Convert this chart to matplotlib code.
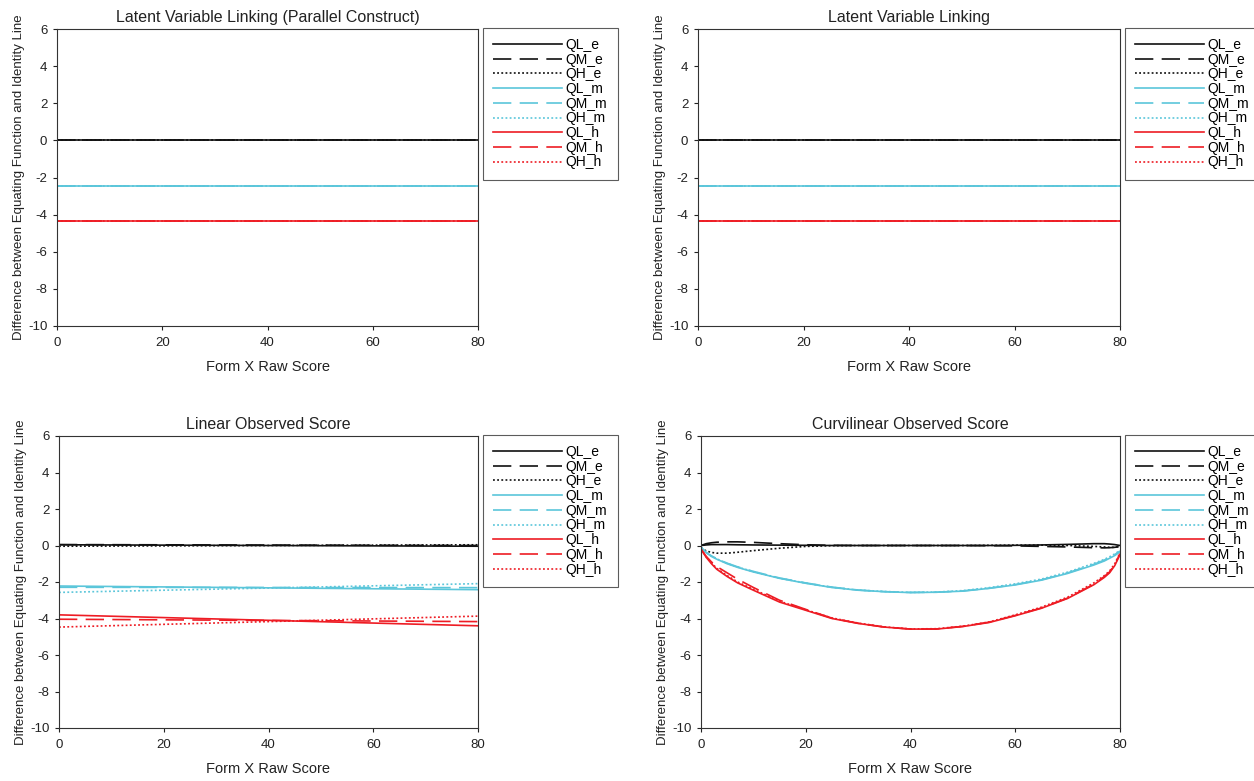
import matplotlib
matplotlib.use("Agg")
import matplotlib.pyplot as plt

plt.rcParams['font.family'] = ['Liberation Sans', 'DejaVu Sans']
plt.rcParams['axes.unicode_minus'] = False

series_names = ["QL_e", "QM_e", "QH_e", "QL_m", "QM_m", "QH_m", "QL_h", "QM_h", "QH_h"]
BLACK, CYAN, RED = "#111111", "#5bc6da", "#ee1c24"
colors = [BLACK, BLACK, BLACK, CYAN, CYAN, CYAN, RED, RED, RED]
styles = ["solid", "dashed", "dotted"] * 3

# Panel 1 & 2: latent variable linking (flat lines)
x_flat = [0, 80]
lat_values = {
    "QL_e": [0.0, 0.0], "QM_e": [0.0, 0.0], "QH_e": [0.0, 0.0],
    "QL_m": [-2.45, -2.45], "QM_m": [-2.45, -2.45], "QH_m": [-2.45, -2.45],
    "QL_h": [-4.35, -4.35], "QM_h": [-4.35, -4.35], "QH_h": [-4.35, -4.35],
}

# Panel 3: linear observed score
x_lin = [0, 80]
lin_values = {
    "QL_e": [0.04, -0.04], "QM_e": [0.05, 0.0], "QH_e": [-0.04, 0.04],
    "QL_m": [-2.22, -2.42], "QM_m": [-2.29, -2.31], "QH_m": [-2.57, -2.09],
    "QL_h": [-3.8, -4.4], "QM_h": [-4.04, -4.17], "QH_h": [-4.47, -3.87],
}

# Panel 4: curvilinear observed score
x_cur = [0, 1, 2, 3, 5, 7, 10, 15, 20, 25, 30, 35, 40, 45, 50, 55, 60, 65, 70, 75, 77, 78, 79, 80]
cur_values = {
    "QL_e": [0.0, 0.03, 0.05, 0.05, 0.05, 0.04, 0.03, 0.02, 0.01, 0.0, 0.0, 0.0, 0.0, 0.0,
             0.0, 0.0, 0.01, 0.03, 0.06, 0.1, 0.1, 0.08, 0.05, 0.0],
    "QM_e": [0.0, 0.1, 0.15, 0.18, 0.2, 0.2, 0.17, 0.1, 0.04, 0.01, 0.0, 0.0, 0.0, 0.0,
             0.0, -0.01, -0.02, -0.05, -0.08, -0.12, -0.13, -0.12, -0.1, -0.05],
    "QH_e": [-0.12, -0.3, -0.38, -0.42, -0.42, -0.37, -0.28, -0.15, -0.05, -0.01, 0.0, 0.0, 0.0, 0.0,
             0.0, 0.01, 0.02, 0.02, 0.0, -0.05, -0.08, -0.1, -0.1, -0.05],
    "QL_m": [-0.1, -0.4, -0.6, -0.75, -1.0, -1.2, -1.45, -1.8, -2.07, -2.3, -2.45, -2.53, -2.58, -2.56,
             -2.5, -2.35, -2.16, -1.9, -1.53, -1.07, -0.85, -0.7, -0.55, -0.35],
    "QM_m": [-0.1, -0.38, -0.57, -0.72, -0.97, -1.17, -1.42, -1.78, -2.05, -2.28, -2.44, -2.53, -2.57, -2.56,
             -2.49, -2.34, -2.14, -1.88, -1.5, -1.03, -0.8, -0.66, -0.5, -0.3],
    "QH_m": [-0.1, -0.39, -0.58, -0.73, -0.98, -1.18, -1.43, -1.79, -2.06, -2.29, -2.44, -2.52, -2.57, -2.55,
             -2.47, -2.31, -2.1, -1.84, -1.46, -0.98, -0.76, -0.62, -0.46, -0.27],
    "QL_h": [-0.2, -0.65, -1.0, -1.3, -1.7, -2.05, -2.45, -3.1, -3.55, -4.0, -4.27, -4.47, -4.58, -4.58,
             -4.44, -4.22, -3.85, -3.44, -2.9, -2.15, -1.75, -1.5, -1.1, -0.5],
    "QM_h": [-0.2, -0.6, -0.9, -1.15, -1.5, -1.85, -2.3, -3.0, -3.5, -3.98, -4.26, -4.47, -4.58, -4.57,
             -4.43, -4.2, -3.83, -3.42, -2.88, -2.12, -1.7, -1.45, -1.05, -0.45],
    "QH_h": [-0.2, -0.62, -0.95, -1.25, -1.65, -2.0, -2.4, -3.05, -3.52, -3.97, -4.25, -4.46, -4.57, -4.56,
             -4.42, -4.19, -3.8, -3.38, -2.83, -2.05, -1.65, -1.4, -1.0, -0.4],
}

titles = ["Latent Variable Linking (Parallel Construct)", "Latent Variable Linking",
          "Linear Observed Score", "Curvilinear Observed Score"]
x_ticks = [0, 20, 40, 60, 80]
y_ticks = [-10, -8, -6, -4, -2, 0, 2, 4, 6]
xlabel = "Form X Raw Score"
ylabel = "Difference between Equating Function and Identity Line"

W, H = 1254, 781
fig = plt.figure(figsize=(W / 100, H / 100), dpi=100)

# axes boxes in pixels: (left, top, right, bottom)
boxes = [(57, 29, 478, 326), (698, 29, 1120, 326), (59, 436, 478, 728), (701, 436, 1120, 728)]
panels = [(x_flat, lat_values), (x_flat, lat_values), (x_lin, lin_values), (x_cur, cur_values)]

dash_map = {"solid": "-", "dashed": (0, (11, 5)), "dotted": (0, (1.1, 1.4))}

for (l, t, r, b), title, (xs, vals) in zip(boxes, titles, panels):
    ax = fig.add_axes([l / W, 1 - b / H, (r - l) / W, (b - t) / H])
    handles = []
    for name, c, st in zip(series_names, colors, styles):
        h, = ax.plot(xs, vals[name], color=c, lw=1.2, linestyle=dash_map[st], label=name)
        handles.append(h)
    ax.set_xlim(0, 80)
    ax.set_ylim(-10, 6)
    ax.set_xticks(x_ticks)
    ax.set_yticks(y_ticks)
    ax.tick_params(direction="out", length=3, width=0.8, labelsize=9.5, colors="#222222")
    ax.tick_params(axis="x", pad=5)
    ax.tick_params(axis="y", pad=4)
    for s in ax.spines.values():
        s.set_linewidth(0.8)
        s.set_color("#333333")
    ax.set_title(title, fontsize=11.5, pad=5, color="#222222")
    ax.set_xlabel(xlabel, fontsize=10.5, labelpad=8, color="#222222")
    ax.set_ylabel(ylabel, fontsize=9.5, labelpad=2, color="#222222")
    leg = ax.legend(handles=handles, loc="upper left", bbox_to_anchor=(1.012, 1.005),
                    fontsize=10, handlelength=4.9, handletextpad=0.3, labelspacing=0.05,
                    borderpad=0.75, frameon=True, fancybox=False, borderaxespad=0)
    leg.get_frame().set_edgecolor("#333333")
    leg.get_frame().set_linewidth(0.8)

fig.savefig("out.png", dpi=100)
